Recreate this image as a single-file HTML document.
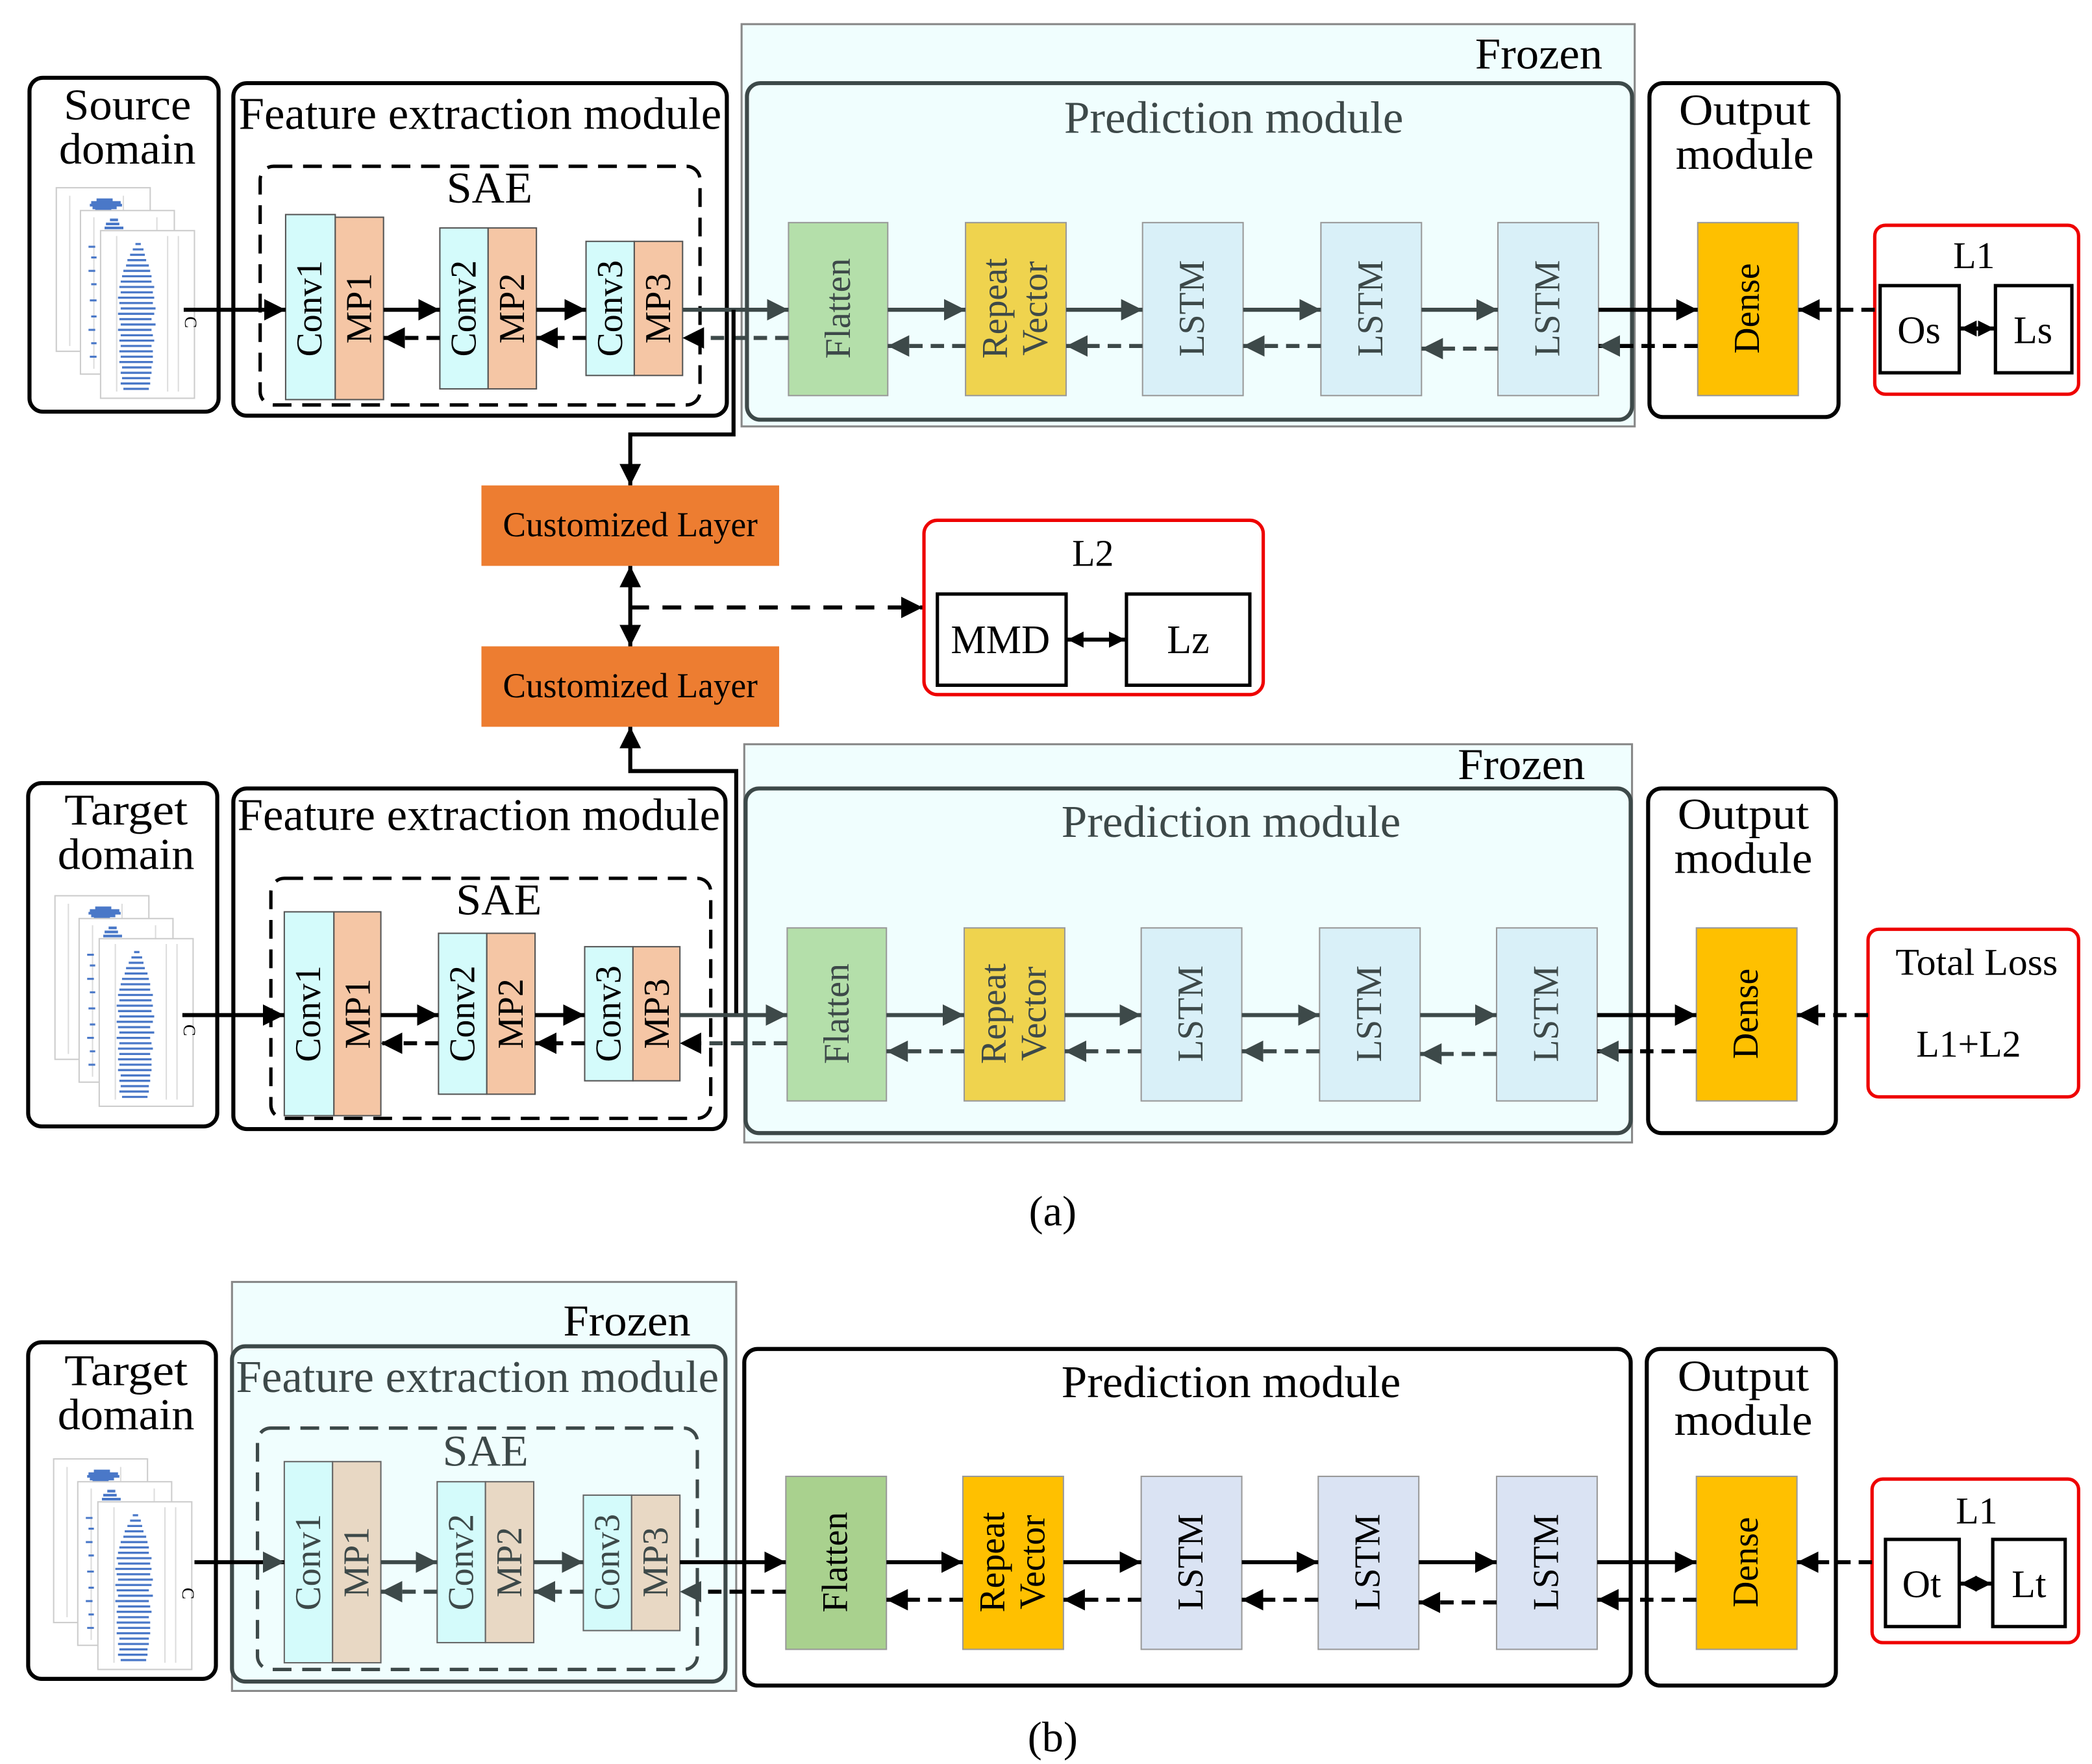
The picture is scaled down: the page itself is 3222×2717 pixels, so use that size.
<!DOCTYPE html>
<html><head><meta charset="utf-8"><style>html,body{margin:0;padding:0;background:#fff}svg{display:block}</style></head><body>
<svg width="3222" height="2717" viewBox="0 0 1560 1315.5" preserveAspectRatio="none" xmlns="http://www.w3.org/2000/svg" font-family="Liberation Serif, serif">
<defs>
<marker id="a" viewBox="0 0 16 16" markerWidth="16" markerHeight="18" refX="16" refY="8" orient="auto" markerUnits="userSpaceOnUse"><path d="M0,0L16,8L0,16z" fill="#000"/></marker>
<marker id="g" viewBox="0 0 16 16" markerWidth="16" markerHeight="18" refX="16" refY="8" orient="auto" markerUnits="userSpaceOnUse"><path d="M0,0L16,8L0,16z" fill="#3d4949"/></marker>
<marker id="s" viewBox="0 0 16 16" markerWidth="12" markerHeight="16" refX="16" refY="8" orient="auto-start-reverse" markerUnits="userSpaceOnUse"><path d="M0,0L16,8L0,16z" fill="#000"/></marker>
<g id="sig">
<rect x="0" y="0" width="70" height="122" fill="#fff" stroke="#ccc"/>
<line x1="10" y1="6" x2="10" y2="118" stroke="#ddd"/><line x1="50" y1="6" x2="50" y2="118" stroke="#ddd"/>
<path d="M30,9h12M26,11h22M25,13h24M27,15h18M29,17h12" stroke="#4a78c8" stroke-width="2"/>
<path d="M22,40h3M20,60h4M22,80h3M20,100h4M22,110h3" stroke="#4a78c8" stroke-width="1.5"/>
<rect x="18" y="17" width="70" height="122" fill="#fff" stroke="#ccc"/>
<line x1="28" y1="22" x2="28" y2="135" stroke="#ddd"/><line x1="75" y1="22" x2="75" y2="135" stroke="#ddd"/>
<path d="M40,24h6M37,27h10M36,30h14M39,33h8" stroke="#4a78c8" stroke-width="2"/>
<rect x="33" y="32" width="70" height="125" fill="#fff" stroke="#ccc"/>
<line x1="45" y1="36" x2="45" y2="152" stroke="#ddd"/><line x1="83" y1="36" x2="83" y2="152" stroke="#ddd"/><line x1="91" y1="36" x2="91" y2="152" stroke="#ddd"/>
<path d="M59,42h4M57,46h8M55,50h11M53,54h14M52,58h17M50,62h20M49,66h22M48,70h23M47,74h26M48,78h24M46,82h27M47,86h25M48,90h26M46,94h27M47,98h24M48,102h26M46,106h25M48,110h24M47,114h26M48,118h23M47,122h25M48,126h24M47,130h25M49,134h22M48,138h23M49,142h21M48,146h22M50,150h19" stroke="#4a78c8" stroke-width="1.6"/>
<path d="M24,44h5M26,52h4M24,62h5M26,72h4M25,84h5M26,96h4M24,106h5M26,116h4M25,126h5" stroke="#4a78c8" stroke-width="1.5"/>
<text x="96" y="96" font-size="13" transform="rotate(90 96 96)">C</text>
</g>
</defs>

<!-- ===== (a) top ===== -->
<rect x="22" y="58" width="141" height="249" rx="10" fill="#fff" stroke="#000" stroke-width="3"/>
<text x="95" y="89" font-size="33" text-anchor="middle" textLength="95" lengthAdjust="spacingAndGlyphs">Source</text>
<text x="95" y="122" font-size="33" text-anchor="middle" textLength="102" lengthAdjust="spacingAndGlyphs">domain</text>
<use href="#sig" x="42" y="140"/>

<rect x="174" y="62" width="368" height="248" rx="10" fill="#fff" stroke="#000" stroke-width="3"/>
<text x="358" y="96" font-size="34" text-anchor="middle" textLength="360" lengthAdjust="spacingAndGlyphs">Feature extraction module</text>
<rect x="194" y="124" width="328" height="178" rx="10" fill="none" stroke="#000" stroke-width="2.5" stroke-dasharray="14 8"/>
<text x="365" y="151" font-size="33" text-anchor="middle" textLength="64" lengthAdjust="spacingAndGlyphs">SAE</text>
<rect x="213" y="160" width="37" height="138" fill="#d4fbfb" stroke="#555"/>
<rect x="250" y="162" width="36" height="136" fill="#f5c6a5" stroke="#555"/>
<rect x="328" y="170" width="36" height="120" fill="#d4fbfb" stroke="#555"/>
<rect x="364" y="170" width="36" height="120" fill="#f5c6a5" stroke="#555"/>
<rect x="437" y="180" width="36" height="100" fill="#d4fbfb" stroke="#555"/>
<rect x="473" y="180" width="36" height="100" fill="#f5c6a5" stroke="#555"/>
<g font-size="27" text-anchor="middle" dominant-baseline="central">
<text transform="translate(231,230) rotate(-90)">Conv1</text><text transform="translate(268,230) rotate(-90)">MP1</text>
<text transform="translate(346,230) rotate(-90)">Conv2</text><text transform="translate(382,230) rotate(-90)">MP2</text>
<text transform="translate(455,230) rotate(-90)">Conv3</text><text transform="translate(491,230) rotate(-90)">MP3</text>
</g>

<rect x="553" y="18" width="666" height="300" fill="#f0fefe" stroke="#888" stroke-width="1.5"/>
<text x="1195" y="51" font-size="33" text-anchor="end" textLength="95" lengthAdjust="spacingAndGlyphs">Frozen</text>
<rect x="557" y="62" width="660" height="251" rx="10" fill="#f0fefe" stroke="#3d4949" stroke-width="3"/>
<text x="920" y="99" font-size="34" text-anchor="middle" fill="#3d4949" textLength="253" lengthAdjust="spacingAndGlyphs">Prediction module</text>
<rect x="588" y="166" width="74" height="129" fill="#b4dfaa" stroke="#999"/>
<rect x="720" y="166" width="75" height="129" fill="#efd34e" stroke="#999"/>
<rect x="852" y="166" width="75" height="129" fill="#d9f0f8" stroke="#999"/>
<rect x="985" y="166" width="75" height="129" fill="#d9f0f8" stroke="#999"/>
<rect x="1117" y="166" width="75" height="129" fill="#d9f0f8" stroke="#999"/>
<g font-size="27" text-anchor="middle" dominant-baseline="central" fill="#3d4949">
<text transform="translate(625,230) rotate(-90)">Flatten</text>
<text transform="translate(742,230) rotate(-90)">Repeat</text><text transform="translate(772,230) rotate(-90)">Vector</text>
<text transform="translate(889,230) rotate(-90)">LSTM</text><text transform="translate(1022,230) rotate(-90)">LSTM</text><text transform="translate(1154,230) rotate(-90)">LSTM</text>
</g>
<rect x="1230" y="62" width="141" height="249" rx="10" fill="#fff" stroke="#000" stroke-width="3"/>
<text x="1301" y="93" font-size="33" text-anchor="middle" textLength="98" lengthAdjust="spacingAndGlyphs">Output</text>
<text x="1301" y="126" font-size="33" text-anchor="middle" textLength="103" lengthAdjust="spacingAndGlyphs">module</text>
<rect x="1266" y="166" width="75" height="129" fill="#fec000" stroke="#999"/>
<text transform="translate(1303,230) rotate(-90)" font-size="27" text-anchor="middle" dominant-baseline="central">Dense</text>
<rect x="1398" y="168" width="152" height="126" rx="8" fill="#fff" stroke="#e00" stroke-width="2.5"/>
<text x="1472" y="200" font-size="28" text-anchor="middle">L1</text>
<rect x="1402" y="213" width="59" height="65" fill="#fff" stroke="#000" stroke-width="2.5"/>
<rect x="1488" y="213" width="57" height="65" fill="#fff" stroke="#000" stroke-width="2.5"/>
<text x="1431" y="256" font-size="29" text-anchor="middle">Os</text>
<text x="1516" y="256" font-size="29" text-anchor="middle">Ls</text>
<line x1="1462" y1="245" x2="1487" y2="245" stroke="#000" stroke-width="3" marker-start="url(#s)" marker-end="url(#s)"/>

<g stroke-width="3" fill="none">
<line x1="137" y1="231" x2="213" y2="231" stroke="#000" marker-end="url(#a)"/>
<line x1="286" y1="231" x2="328" y2="231" stroke="#000" marker-end="url(#a)"/>
<line x1="400" y1="231" x2="437" y2="231" stroke="#000" marker-end="url(#a)"/>
<line x1="509" y1="231" x2="588" y2="231" stroke="#3d4949" marker-end="url(#g)"/>
<g stroke-dasharray="10 6">
<line x1="588" y1="252" x2="509" y2="252" stroke="#3d4949" marker-end="url(#a)"/>
<line x1="437" y1="252" x2="400" y2="252" stroke="#000" marker-end="url(#a)"/>
<line x1="328" y1="252" x2="286" y2="252" stroke="#000" marker-end="url(#a)"/>
</g>
<line x1="662" y1="231" x2="720" y2="231" stroke="#3d4949" marker-end="url(#g)"/>
<line x1="795" y1="231" x2="852" y2="231" stroke="#3d4949" marker-end="url(#g)"/>
<line x1="927" y1="231" x2="985" y2="231" stroke="#3d4949" marker-end="url(#g)"/>
<line x1="1060" y1="231" x2="1117" y2="231" stroke="#3d4949" marker-end="url(#g)"/>
<line x1="1192" y1="231" x2="1266" y2="231" stroke="#000" marker-end="url(#a)"/>
<g stroke-dasharray="10 6">
<line x1="720" y1="258" x2="662" y2="258" stroke="#3d4949" marker-end="url(#g)"/>
<line x1="852" y1="258" x2="795" y2="258" stroke="#3d4949" marker-end="url(#g)"/>
<line x1="985" y1="258" x2="927" y2="258" stroke="#3d4949" marker-end="url(#g)"/>
<line x1="1117" y1="260" x2="1060" y2="260" stroke="#3d4949" marker-end="url(#g)"/>
<line x1="1266" y1="258" x2="1192" y2="258" stroke="#000" marker-end="url(#g)"/>
<line x1="1398" y1="231" x2="1341" y2="231" stroke="#000" marker-end="url(#a)"/>
</g>
<polyline points="547,231 547,324 470,324 470,362" stroke="#000" marker-end="url(#a)"/>
<polyline points="549,757 549,575 470,575 470,542" stroke="#000" marker-end="url(#a)"/>
<line x1="470" y1="452" x2="470" y2="422" stroke="#000" marker-end="url(#a)"/>
<line x1="470" y1="452" x2="470" y2="482" stroke="#000" marker-end="url(#a)"/>
<line x1="470" y1="453" x2="688" y2="453" stroke="#000" stroke-dasharray="14 10" marker-end="url(#a)"/>
</g>

<rect x="359" y="362" width="222" height="60" fill="#ed7d31"/>
<text x="470" y="400" font-size="26" text-anchor="middle" textLength="190" lengthAdjust="spacingAndGlyphs">Customized Layer</text>
<rect x="359" y="482" width="222" height="60" fill="#ed7d31"/>
<text x="470" y="520" font-size="26" text-anchor="middle" textLength="190" lengthAdjust="spacingAndGlyphs">Customized Layer</text>
<rect x="689" y="388" width="253" height="130" rx="10" fill="#fff" stroke="#e00" stroke-width="2.5"/>
<text x="815" y="422" font-size="28" text-anchor="middle">L2</text>
<rect x="699" y="443" width="96" height="68" fill="#fff" stroke="#000" stroke-width="2.5"/>
<rect x="840" y="443" width="92" height="68" fill="#fff" stroke="#000" stroke-width="2.5"/>
<text x="746" y="487" font-size="30" text-anchor="middle" textLength="74" lengthAdjust="spacingAndGlyphs">MMD</text>
<text x="886" y="487" font-size="30" text-anchor="middle">Lz</text>
<line x1="796" y1="477" x2="839" y2="477" stroke="#000" stroke-width="3" marker-start="url(#s)" marker-end="url(#s)"/>

<!-- ===== (a) bottom ===== -->
<rect x="21" y="584" width="141" height="256" rx="10" fill="#fff" stroke="#000" stroke-width="3"/>
<text x="94" y="615" font-size="33" text-anchor="middle" textLength="92" lengthAdjust="spacingAndGlyphs">Target</text>
<text x="94" y="648" font-size="33" text-anchor="middle" textLength="102" lengthAdjust="spacingAndGlyphs">domain</text>
<use href="#sig" x="41" y="668"/>
<rect x="174" y="588" width="367" height="254" rx="10" fill="#fff" stroke="#000" stroke-width="3"/>
<text x="357" y="619" font-size="34" text-anchor="middle" textLength="360" lengthAdjust="spacingAndGlyphs">Feature extraction module</text>
<rect x="202" y="655" width="328" height="179" rx="10" fill="none" stroke="#000" stroke-width="2.5" stroke-dasharray="14 8"/>
<text x="372" y="682" font-size="33" text-anchor="middle" textLength="64" lengthAdjust="spacingAndGlyphs">SAE</text>
<rect x="212" y="680" width="37" height="152" fill="#d4fbfb" stroke="#555"/>
<rect x="249" y="680" width="35" height="152" fill="#f5c6a5" stroke="#555"/>
<rect x="327" y="696" width="36" height="120" fill="#d4fbfb" stroke="#555"/>
<rect x="363" y="696" width="36" height="120" fill="#f5c6a5" stroke="#555"/>
<rect x="436" y="706" width="36" height="100" fill="#d4fbfb" stroke="#555"/>
<rect x="472" y="706" width="35" height="100" fill="#f5c6a5" stroke="#555"/>
<g font-size="27" text-anchor="middle" dominant-baseline="central">
<text transform="translate(230,756) rotate(-90)">Conv1</text><text transform="translate(267,756) rotate(-90)">MP1</text>
<text transform="translate(345,756) rotate(-90)">Conv2</text><text transform="translate(381,756) rotate(-90)">MP2</text>
<text transform="translate(454,756) rotate(-90)">Conv3</text><text transform="translate(490,756) rotate(-90)">MP3</text>
</g>
<rect x="555" y="555" width="662" height="297" fill="#f0fefe" stroke="#888" stroke-width="1.5"/>
<text x="1182" y="581" font-size="33" text-anchor="end" textLength="95" lengthAdjust="spacingAndGlyphs">Frozen</text>
<rect x="556" y="588" width="660" height="257" rx="10" fill="#f0fefe" stroke="#3d4949" stroke-width="3"/>
<text x="918" y="624" font-size="34" text-anchor="middle" fill="#3d4949" textLength="253" lengthAdjust="spacingAndGlyphs">Prediction module</text>
<rect x="587" y="692" width="74" height="129" fill="#b4dfaa" stroke="#999"/>
<rect x="719" y="692" width="75" height="129" fill="#efd34e" stroke="#999"/>
<rect x="851" y="692" width="75" height="129" fill="#d9f0f8" stroke="#999"/>
<rect x="984" y="692" width="75" height="129" fill="#d9f0f8" stroke="#999"/>
<rect x="1116" y="692" width="75" height="129" fill="#d9f0f8" stroke="#999"/>
<g font-size="27" text-anchor="middle" dominant-baseline="central" fill="#3d4949">
<text transform="translate(624,756) rotate(-90)">Flatten</text>
<text transform="translate(741,756) rotate(-90)">Repeat</text><text transform="translate(771,756) rotate(-90)">Vector</text>
<text transform="translate(888,756) rotate(-90)">LSTM</text><text transform="translate(1021,756) rotate(-90)">LSTM</text><text transform="translate(1153,756) rotate(-90)">LSTM</text>
</g>
<rect x="1229" y="588" width="140" height="257" rx="10" fill="#fff" stroke="#000" stroke-width="3"/>
<text x="1300" y="618" font-size="33" text-anchor="middle" textLength="98" lengthAdjust="spacingAndGlyphs">Output</text>
<text x="1300" y="651" font-size="33" text-anchor="middle" textLength="103" lengthAdjust="spacingAndGlyphs">module</text>
<rect x="1265" y="692" width="75" height="129" fill="#fec000" stroke="#999"/>
<text transform="translate(1302,756) rotate(-90)" font-size="27" text-anchor="middle" dominant-baseline="central">Dense</text>
<rect x="1393" y="693" width="157" height="125" rx="8" fill="#fff" stroke="#e00" stroke-width="2.5"/>
<text x="1474" y="727" font-size="28" text-anchor="middle" textLength="121" lengthAdjust="spacingAndGlyphs">Total Loss</text>
<text x="1468" y="788" font-size="28" text-anchor="middle">L1+L2</text>
<g stroke-width="3" fill="none">
<line x1="136" y1="757" x2="212" y2="757" stroke="#000" marker-end="url(#a)"/>
<line x1="284" y1="757" x2="327" y2="757" stroke="#000" marker-end="url(#a)"/>
<line x1="399" y1="757" x2="436" y2="757" stroke="#000" marker-end="url(#a)"/>
<line x1="507" y1="757" x2="587" y2="757" stroke="#3d4949" marker-end="url(#g)"/>
<g stroke-dasharray="10 6">
<line x1="587" y1="778" x2="507" y2="778" stroke="#3d4949" marker-end="url(#a)"/>
<line x1="436" y1="778" x2="399" y2="778" stroke="#000" marker-end="url(#a)"/>
<line x1="327" y1="778" x2="284" y2="778" stroke="#000" marker-end="url(#a)"/>
</g>
<line x1="661" y1="757" x2="719" y2="757" stroke="#3d4949" marker-end="url(#g)"/>
<line x1="794" y1="757" x2="851" y2="757" stroke="#3d4949" marker-end="url(#g)"/>
<line x1="926" y1="757" x2="984" y2="757" stroke="#3d4949" marker-end="url(#g)"/>
<line x1="1059" y1="757" x2="1116" y2="757" stroke="#3d4949" marker-end="url(#g)"/>
<line x1="1191" y1="757" x2="1265" y2="757" stroke="#000" marker-end="url(#a)"/>
<g stroke-dasharray="10 6">
<line x1="719" y1="784" x2="661" y2="784" stroke="#3d4949" marker-end="url(#g)"/>
<line x1="851" y1="784" x2="794" y2="784" stroke="#3d4949" marker-end="url(#g)"/>
<line x1="984" y1="784" x2="926" y2="784" stroke="#3d4949" marker-end="url(#g)"/>
<line x1="1116" y1="786" x2="1059" y2="786" stroke="#3d4949" marker-end="url(#g)"/>
<line x1="1265" y1="784" x2="1191" y2="784" stroke="#000" marker-end="url(#g)"/>
<line x1="1393" y1="757" x2="1340" y2="757" stroke="#000" marker-end="url(#a)"/>
</g>
</g>
<text x="785" y="914" font-size="32" text-anchor="middle">(a)</text>

<!-- ===== (b) ===== -->
<rect x="21" y="1001" width="140" height="251" rx="10" fill="#fff" stroke="#000" stroke-width="3"/>
<text x="94" y="1033" font-size="33" text-anchor="middle" textLength="92" lengthAdjust="spacingAndGlyphs">Target</text>
<text x="94" y="1066" font-size="33" text-anchor="middle" textLength="102" lengthAdjust="spacingAndGlyphs">domain</text>
<use href="#sig" x="40" y="1088"/>
<rect x="173" y="956" width="376" height="305" fill="#f0fefe" stroke="#888" stroke-width="1.5"/>
<text x="515" y="996" font-size="33" text-anchor="end" textLength="95" lengthAdjust="spacingAndGlyphs">Frozen</text>
<rect x="173" y="1004" width="368" height="250" rx="10" fill="#f0fefe" stroke="#3d4949" stroke-width="3"/>
<text x="356" y="1038" font-size="34" text-anchor="middle" fill="#3d4949" textLength="360" lengthAdjust="spacingAndGlyphs">Feature extraction module</text>
<rect x="192" y="1065" width="328" height="180" rx="10" fill="none" stroke="#3d4949" stroke-width="2.5" stroke-dasharray="14 8"/>
<text x="362" y="1093" font-size="33" text-anchor="middle" fill="#3d4949" textLength="64" lengthAdjust="spacingAndGlyphs">SAE</text>
<rect x="212" y="1090" width="36" height="150" fill="#d4fbfb" stroke="#666"/>
<rect x="248" y="1090" width="36" height="150" fill="#e8d8c4" stroke="#666"/>
<rect x="326" y="1105" width="36" height="120" fill="#d4fbfb" stroke="#666"/>
<rect x="362" y="1105" width="36" height="120" fill="#e8d8c4" stroke="#666"/>
<rect x="435" y="1115" width="36" height="101" fill="#d4fbfb" stroke="#666"/>
<rect x="471" y="1115" width="36" height="101" fill="#e8d8c4" stroke="#666"/>
<g font-size="27" text-anchor="middle" dominant-baseline="central" fill="#3d4949">
<text transform="translate(230,1165) rotate(-90)">Conv1</text><text transform="translate(266,1165) rotate(-90)">MP1</text>
<text transform="translate(344,1165) rotate(-90)">Conv2</text><text transform="translate(380,1165) rotate(-90)">MP2</text>
<text transform="translate(453,1165) rotate(-90)">Conv3</text><text transform="translate(489,1165) rotate(-90)">MP3</text>
</g>
<rect x="555" y="1006" width="661" height="251" rx="10" fill="#fff" stroke="#000" stroke-width="3"/>
<text x="918" y="1042" font-size="34" text-anchor="middle" textLength="253" lengthAdjust="spacingAndGlyphs">Prediction module</text>
<rect x="586" y="1101" width="75" height="129" fill="#a9d18e" stroke="#999"/>
<rect x="718" y="1101" width="75" height="129" fill="#ffc000" stroke="#999"/>
<rect x="851" y="1101" width="75" height="129" fill="#dae3f3" stroke="#999"/>
<rect x="983" y="1101" width="75" height="129" fill="#dae3f3" stroke="#999"/>
<rect x="1116" y="1101" width="75" height="129" fill="#dae3f3" stroke="#999"/>
<g font-size="27" text-anchor="middle" dominant-baseline="central">
<text transform="translate(623,1165) rotate(-90)">Flatten</text>
<text transform="translate(740,1165) rotate(-90)">Repeat</text><text transform="translate(770,1165) rotate(-90)">Vector</text>
<text transform="translate(888,1165) rotate(-90)">LSTM</text><text transform="translate(1020,1165) rotate(-90)">LSTM</text><text transform="translate(1153,1165) rotate(-90)">LSTM</text>
</g>
<rect x="1228" y="1006" width="141" height="251" rx="10" fill="#fff" stroke="#000" stroke-width="3"/>
<text x="1300" y="1037" font-size="33" text-anchor="middle" textLength="98" lengthAdjust="spacingAndGlyphs">Output</text>
<text x="1300" y="1070" font-size="33" text-anchor="middle" textLength="103" lengthAdjust="spacingAndGlyphs">module</text>
<rect x="1265" y="1101" width="75" height="129" fill="#ffc000" stroke="#999"/>
<text transform="translate(1302,1165) rotate(-90)" font-size="27" text-anchor="middle" dominant-baseline="central">Dense</text>
<rect x="1396" y="1103" width="154" height="122" rx="8" fill="#fff" stroke="#e00" stroke-width="2.5"/>
<text x="1474" y="1136" font-size="28" text-anchor="middle">L1</text>
<rect x="1406" y="1148" width="55" height="65" fill="#fff" stroke="#000" stroke-width="2.5"/>
<rect x="1486" y="1148" width="54" height="65" fill="#fff" stroke="#000" stroke-width="2.5"/>
<text x="1433" y="1191" font-size="29" text-anchor="middle">Ot</text>
<text x="1513" y="1191" font-size="29" text-anchor="middle">Lt</text>
<line x1="1462" y1="1181" x2="1485" y2="1181" stroke="#000" stroke-width="3" marker-start="url(#s)" marker-end="url(#s)"/>
<g stroke-width="3" fill="none">
<line x1="145" y1="1165" x2="212" y2="1165" stroke="#000" marker-end="url(#g)"/>
<line x1="284" y1="1165" x2="326" y2="1165" stroke="#3d4949" marker-end="url(#g)"/>
<line x1="398" y1="1165" x2="435" y2="1165" stroke="#3d4949" marker-end="url(#g)"/>
<line x1="507" y1="1165" x2="586" y2="1165" stroke="#000" marker-end="url(#a)"/>
<g stroke-dasharray="10 6">
<line x1="586" y1="1187" x2="507" y2="1187" stroke="#000" marker-end="url(#g)"/>
<line x1="435" y1="1187" x2="398" y2="1187" stroke="#3d4949" marker-end="url(#g)"/>
<line x1="326" y1="1187" x2="284" y2="1187" stroke="#3d4949" marker-end="url(#g)"/>
</g>
<line x1="661" y1="1165" x2="718" y2="1165" stroke="#000" marker-end="url(#a)"/>
<line x1="793" y1="1165" x2="851" y2="1165" stroke="#000" marker-end="url(#a)"/>
<line x1="926" y1="1165" x2="983" y2="1165" stroke="#000" marker-end="url(#a)"/>
<line x1="1058" y1="1165" x2="1116" y2="1165" stroke="#000" marker-end="url(#a)"/>
<line x1="1191" y1="1165" x2="1265" y2="1165" stroke="#000" marker-end="url(#a)"/>
<g stroke-dasharray="10 6" stroke="#000">
<line x1="718" y1="1193" x2="661" y2="1193" marker-end="url(#a)"/>
<line x1="851" y1="1193" x2="793" y2="1193" marker-end="url(#a)"/>
<line x1="983" y1="1193" x2="926" y2="1193" marker-end="url(#a)"/>
<line x1="1116" y1="1195" x2="1058" y2="1195" marker-end="url(#a)"/>
<line x1="1265" y1="1193" x2="1191" y2="1193" marker-end="url(#a)"/>
<line x1="1396" y1="1165" x2="1340" y2="1165" marker-end="url(#a)"/>
</g>
</g>
<text x="785" y="1306" font-size="32" text-anchor="middle">(b)</text>
</svg>
</body></html>
